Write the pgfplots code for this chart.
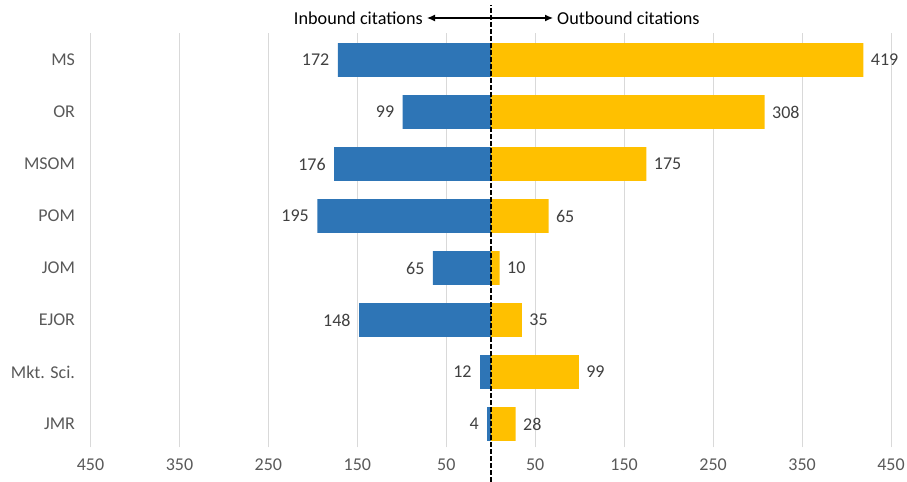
\documentclass[border=0pt]{standalone}
\usepackage{pgfplots}
\pgfplotsset{compat=1.18}
\usepackage{pgfplotstable}
\usepackage{fontspec}
\setmainfont{Carlito}
\usetikzlibrary{arrows.meta}
\definecolor{inblue}{HTML}{2E75B6}
\definecolor{outyellow}{HTML}{FFC000}
\definecolor{gridgray}{HTML}{D9D9D9}
\definecolor{txtgray}{HTML}{595959}
\definecolor{lblgray}{HTML}{404040}
\pgfplotstableread{
name y in out
MS 7 172 419
OR 6 99 308
MSOM 5 176 175
POM 4 195 65
JOM 3 65 10
EJOR 2 148 35
Mkt 1 12 99
JMR 0 4 28
}\datatable
\begin{document}
\begin{tikzpicture}
\path[use as bounding box] (0,0) rectangle (907bp,482bp);
\begin{axis}[
  at={(90.5bp,34.6bp)}, anchor=south west,
  scale only axis, width=800.5bp, height=414.4bp,
  xmin=-450, xmax=450, ymin=-0.45, ymax=7.52,
  axis line style={draw=none},
  major tick length=0pt,
  xtick={-450,-350,-250,-150,-50,50,150,250,350,450},
  xticklabels={450,350,250,150,50,50,150,250,350,450},
  ytick={0,1,2,3,4,5,6,7},
  yticklabels={JMR,Mkt. Sci.,EJOR,JOM,POM,MSOM,OR,MS},
  xmajorgrids, grid style={gridgray, line width=0.8bp},
  ymajorgrids=false,
  /pgf/number format/assume math mode=true,
  tick label style={font=\fontsize{18bp}{21bp}\selectfont, text=txtgray},
  xticklabel style={yshift=-8bp},
  yticklabel style={anchor=east, xshift=-12bp},
  xbar, bar width=0.65, bar shift=0pt,
  clip=false,
  nodes near coords,
  point meta=explicit symbolic,
  every node near coord/.append style={font=\fontsize{18bp}{21bp}\selectfont, text=lblgray},
]
\addplot[fill=inblue, draw=none, nodes near coords style={anchor=east, xshift=-5bp}]
  table[x expr=-\thisrow{in}, y=y, meta=in] {\datatable};
\addplot[fill=outyellow, draw=none, nodes near coords style={anchor=west, xshift=4bp}]
  table[x=out, y=y, meta=out] {\datatable};
\end{axis}
\draw[black, line width=1.6bp, dash pattern=on 4.5bp off 2.5bp] (490.75bp,0bp) -- (490.75bp,477bp);
\draw[{Latex[length=8bp,width=7bp]}-{Latex[length=8bp,width=7bp]}, line width=1.2bp] (427bp,464bp) -- (553bp,464bp);
\node[anchor=east, font=\fontsize{18.2bp}{21bp}\selectfont, inner sep=0pt] at (423bp,464bp) {Inbound citations};
\node[anchor=west, font=\fontsize{18.2bp}{21bp}\selectfont, inner sep=0pt] at (557bp,464bp) {Outbound citations};
\end{tikzpicture}
\end{document}
